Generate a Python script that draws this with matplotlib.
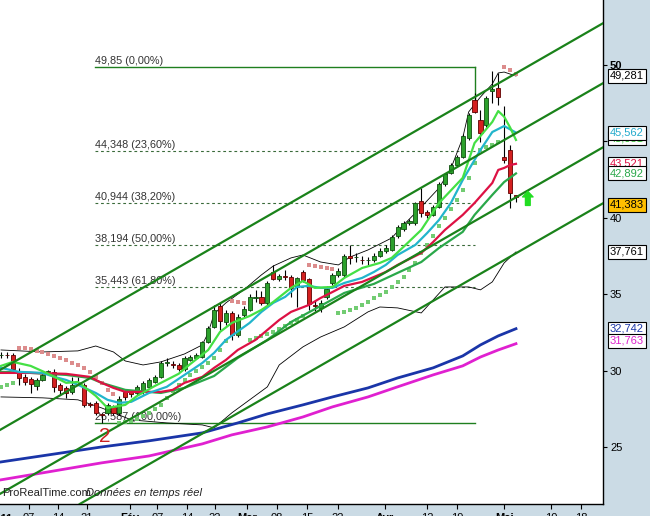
import numpy as np
import matplotlib.pyplot as plt
import matplotlib.transforms as mtransforms

plt.rcParams['font.family'] = ['Liberation Sans', 'DejaVu Sans']

# daily candles, Jan -> early May
opens = [31.00, 31.05, 31.03, 29.98, 29.59, 29.46, 29.00, 29.39, 29.90, 29.92,
         29.07, 28.87, 28.61, 29.25, 29.07, 27.80, 27.89, 27.15, 27.24, 27.63,
         27.24, 28.61, 28.60, 28.54, 28.60, 28.93, 29.26, 29.59, 30.50, 30.45,
         30.37, 30.11, 30.70, 30.83, 30.89, 31.88, 32.86, 34.23, 33.19, 33.77,
         32.33, 33.64, 33.97, 34.75, 34.79, 34.43, 36.45, 35.99, 36.20, 36.12,
         35.47, 36.45, 35.99, 34.30, 34.10, 34.79, 35.73, 36.26, 36.26, 37.50,
         37.40, 37.25, 37.20, 37.24, 37.50, 37.82, 37.89, 38.80, 39.26, 39.65,
         39.65, 41.09, 40.37, 40.18, 40.70, 42.20, 42.92, 43.44, 43.97, 45.21,
         47.69, 46.39, 46.06, 48.30, 48.48, 43.97, 44.42, 41.45]
highs = [31.20, 31.20, 31.16, 30.18, 29.78, 29.59, 29.52, 29.90, 30.05, 30.10,
         29.20, 29.00, 29.60, 29.60, 29.20, 27.95, 28.00, 27.25, 27.90, 27.75,
         28.35, 28.70, 28.75, 29.05, 29.30, 29.50, 29.70, 30.65, 30.80, 30.60,
         30.50, 30.95, 31.00, 31.15, 31.95, 32.90, 34.30, 34.43, 33.95, 33.90,
         33.70, 34.20, 35.00, 35.30, 35.20, 35.85, 36.90, 36.30, 36.60, 36.25,
         36.12, 36.60, 36.05, 34.60, 34.60, 35.50, 36.40, 36.70, 37.65, 38.22,
         37.70, 37.50, 37.40, 37.70, 38.00, 38.20, 38.85, 39.50, 39.80, 39.90,
         41.05, 41.94, 40.50, 40.85, 42.30, 42.95, 43.55, 44.10, 45.45, 46.85,
         48.15, 47.04, 47.95, 49.60, 49.46, 47.30, 44.75, 41.50]
lows = [30.85, 30.80, 29.85, 29.07, 29.07, 28.54, 28.74, 29.30, 29.80, 28.60,
        28.40, 28.20, 28.50, 29.10, 27.63, 27.60, 27.10, 26.59, 27.10, 27.10,
        27.10, 28.10, 28.30, 28.40, 28.50, 28.85, 29.20, 29.50, 30.30, 30.20,
        30.00, 30.00, 30.60, 30.75, 30.80, 31.80, 32.79, 32.66, 33.00, 32.00,
        32.20, 33.50, 33.90, 34.50, 34.30, 34.30, 35.90, 35.85, 35.90, 34.82,
        34.17, 35.80, 33.97, 33.90, 33.80, 34.70, 35.60, 36.10, 36.10, 37.00,
        37.10, 37.00, 36.90, 37.10, 37.40, 37.70, 37.80, 38.70, 39.10, 39.50,
        39.50, 40.05, 40.00, 40.10, 40.60, 42.10, 42.85, 43.35, 43.90, 45.10,
        46.85, 44.95, 45.95, 47.50, 47.37, 43.60, 40.63, 41.05]
closes = [31.05, 31.00, 30.11, 29.52, 29.26, 29.13, 29.39, 29.72, 29.95, 28.93,
          28.74, 28.54, 29.07, 29.28, 27.76, 27.75, 27.24, 27.10, 27.76, 27.24,
          28.15, 28.28, 28.45, 28.93, 29.20, 29.39, 29.59, 30.50, 30.55, 30.40,
          30.11, 30.83, 30.89, 31.03, 31.88, 32.79, 33.97, 33.25, 33.77, 32.33,
          33.52, 34.03, 34.82, 34.80, 34.43, 35.73, 35.99, 36.19, 36.15, 35.41,
          36.06, 35.93, 34.36, 34.25, 34.43, 35.35, 36.26, 36.51, 37.50, 37.37,
          37.45, 37.20, 37.25, 37.50, 37.82, 38.02, 38.74, 39.39, 39.65, 39.78,
          40.96, 40.31, 40.18, 40.70, 42.20, 42.86, 43.44, 43.97, 45.34, 46.71,
          46.91, 45.54, 47.82, 48.40, 47.89, 43.77, 41.61, 41.38]

# parabolic SAR
sar_vals = [28.94, 29.07, 29.20,
            31.48, 31.48, 31.42, 31.29, 31.22, 31.09, 30.96, 30.83, 30.70, 30.50,
            30.37, 30.18, 29.92, 29.59, 29.20, 28.74, 28.48,
            26.58, 26.65, 26.71, 26.84, 27.04, 27.24, 27.50, 27.76, 28.22, 28.67,
            29.07, 29.39, 29.72, 29.98, 30.24, 30.50, 30.83, 31.35, 31.94,
            34.56, 34.49, 34.42,
            32.01, 32.14, 32.27, 32.40, 32.53, 32.73, 32.92, 33.12, 33.31, 33.58,
            36.91, 36.84, 36.78, 36.71, 36.65,
            33.77, 33.84, 33.97, 34.10, 34.29, 34.49, 34.75, 34.95, 35.14, 35.47,
            35.80, 36.12, 36.58, 37.04, 37.69, 38.21, 38.80, 39.46, 39.98, 40.57,
            41.16, 41.81, 42.60, 43.58, 44.43, 44.62, 44.75, 44.95,
            49.85, 49.65, 49.39]
sar_runs = [('u', 3), ('d', 17), ('u', 19), ('d', 3), ('u', 10), ('d', 5), ('u', 28), ('d', 3)]

# moving averages
fast_idx = [0, 2, 5, 8, 11, 13, 16, 18, 21, 23, 26, 30, 32, 35, 37, 39, 42, 44, 46, 49,
            51, 53, 56, 58, 61, 64, 66, 68, 71, 74, 78, 80, 83, 84, 85, 86, 87]
fast_val = [30.31, 30.57, 30.31, 29.79, 29.20, 29.26, 28.35, 27.56, 27.76, 28.35,
            29.00, 29.79, 30.44, 31.35, 32.53, 33.12, 33.57, 33.97, 34.49, 35.41,
            35.86, 35.41, 35.47, 36.06, 36.71, 37.04, 37.37, 38.09, 39.20, 40.96,
            42.60, 44.88, 46.26, 46.97, 46.60, 45.90, 45.08]
cyan_idx = [0, 3, 7, 9, 11, 13, 16, 18, 20, 22, 25, 28, 31, 34, 36, 38, 42, 44, 46, 48,
            50, 52, 54, 56, 58, 61, 63, 65, 67, 70, 72, 74, 76, 78, 81, 83, 85, 87]
cyan_val = [30.18, 29.92, 29.85, 29.59, 29.39, 29.07, 28.54, 28.09, 27.89, 27.96,
            28.54, 28.94, 29.72, 30.50, 31.16, 32.01, 33.12, 33.84, 34.43, 34.82,
            35.47, 35.54, 35.41, 35.41, 35.73, 36.06, 36.45, 36.91, 37.56, 38.22,
            39.00, 39.85, 40.96, 42.46, 44.43, 45.60, 45.99, 45.56]
red_idx = [0, 5, 11, 15, 17, 19, 21, 23, 27, 29, 31, 34, 36, 38, 40, 43, 45, 47, 49, 52,
           54, 56, 58, 61, 63, 65, 67, 71, 73, 75, 78, 80, 83, 84, 85, 86, 87]
red_val = [29.85, 29.85, 29.79, 29.59, 29.20, 28.87, 28.61, 28.61, 28.61, 28.74,
           29.20, 29.59, 30.18, 30.70, 31.35, 32.01, 32.66, 33.31, 33.84, 34.29,
           34.75, 35.14, 35.54, 35.80, 36.12, 36.45, 36.91, 37.69, 38.41, 39.20,
           40.18, 40.96, 42.27, 43.12, 43.25, 43.44, 43.52]
mid_idx = [0, 5, 11, 15, 17, 21, 27, 31, 36, 40, 45, 49, 54, 58, 63, 67, 71, 74, 78, 80, 83, 85, 87]
mid_val = [29.92, 29.85, 29.72, 29.52, 29.20, 28.74, 28.54, 28.87, 29.65, 30.83,
           32.01, 33.18, 34.23, 35.08, 35.67, 36.39, 37.10, 38.02, 39.07, 40.18,
           41.49, 42.33, 42.89]
blue_idx = [0, 8, 17, 25, 34, 40, 45, 51, 56, 62, 67, 73, 78, 81, 84, 87]
blue_val = [24.03, 24.49, 25.01, 25.41, 25.93, 26.58, 27.17, 27.76, 28.28, 28.87,
            29.52, 30.18, 30.96, 31.68, 32.27, 32.74]
mag_idx = [0, 8, 17, 25, 34, 39, 45, 51, 56, 62, 67, 73, 78, 81, 84, 87]
mag_val = [22.86, 23.38, 23.97, 24.42, 25.21, 25.80, 26.32, 26.97, 27.63, 28.28,
           28.94, 29.72, 30.31, 30.89, 31.35, 31.76]

# bollinger bands
bb_up_idx = [0, 7, 13, 16, 19, 21, 24, 27, 31, 34, 35, 36, 38, 41, 44, 46, 49, 51, 54,
             57, 59, 62, 66, 68, 71, 74, 76, 78, 79, 81, 83, 84, 85, 87]
bb_up_val = [31.35, 31.22, 31.29, 31.61, 31.22, 30.63, 30.37, 30.57, 31.09, 31.68,
             32.47, 33.71, 34.43, 35.28, 36.26, 36.84, 37.37, 37.56, 37.10, 36.91,
             37.43, 37.89, 38.67, 39.52, 40.70, 41.94, 43.21, 45.21, 46.91, 47.89,
             48.74, 49.46, 49.52, 49.26]
bb_lo_idx = [0, 7, 13, 17, 22, 28, 34, 36, 39, 42, 45, 47, 51, 54, 58, 62, 64, 67, 71,
             73, 75, 79, 81, 83, 85, 87]
bb_lo_val = [28.28, 28.22, 28.09, 27.56, 26.78, 26.58, 26.45, 26.26, 27.24, 28.09,
             28.94, 30.37, 31.55, 32.20, 32.86, 33.84, 34.16, 34.10, 33.77, 34.62,
             35.47, 35.47, 35.28, 35.80, 37.04, 37.76]

# channel lines: price at first and last candle
chan_start = [30.08, 26.16, 21.98, 18.32]
chan_end = [49.44, 45.52, 41.33, 37.67]

# fibonacci retracement
fib_levels = [49.85, 44.348, 40.944, 38.194, 35.443, 26.587]
fib_labels = ['49,85 (0,00%)', '44,348 (23,60%)', '40,944 (38,20%)',
              '38,194 (50,00%)', '35,443 (61,80%)', '26,587 (100,00%)']

# price labels on the right
tag_text = ['45,081', '45,562', '49,281', '43,521', '42,892', '41,383', '37,761', '32,742', '31,763']
tag_pos = [45.2, 45.562, 49.281, 43.521, 42.892, 40.83, 37.761, 32.742, 31.95]
tag_color = ['#33cc33', '#22aacc', 'black', '#dd1144', '#2aa84a', 'black', 'black', '#1a35a8', '#dd22cc']
tag_face = ['white', 'white', 'white', 'white', 'white', '#ffbf00', 'white', 'white', 'white']

tick_idx = [4.7, 9.6, 14.5, 21.8, 26.4, 31.4, 36.1, 41.6, 46.6, 51.7, 56.9, 64.9, 72.0, 77.0, 85.0, 92.9, 98.0]
tick_lbl = ['07', '14', '21', 'Fév', '07', '14', '22', 'Mar', '08', '15', '22', 'Avr', '12', '19', 'Mai', '10', '18']

BG = '#cbdbe5'
fig = plt.figure(figsize=(6.5, 5.16), dpi=100)
fig.patch.set_facecolor(BG)
ax = fig.add_axes([0, 12 / 516, 603 / 650, 504 / 516])
ax.set_facecolor('white')
ax.set_xlim(-0.17, 101.7)
ax.set_ylim(21.28, 54.23)

# fib lines
for lev, lab in zip(fib_levels, fib_labels):
    solid = lev in (fib_levels[0], fib_levels[-1])
    ax.plot([15.9, 80.1], [lev, lev], color='#1f7f1f' if solid else '#3a6b3a',
            lw=1.0 if solid else 0.8, ls='-' if solid else (0, (2.5, 2.5)), zorder=1)
    ax.text(15.9, lev + 0.08, lab, fontsize=7.8, color='#333333', ha='left', va='bottom', zorder=1)
ax.plot([80.1, 80.1], [fib_levels[0], 47.69], color='#1f7f1f', lw=1.0, zorder=1)

# bollinger
ax.plot(bb_up_idx, bb_up_val, color='black', lw=0.6, zorder=2)
ax.plot(bb_lo_idx, bb_lo_val, color='black', lw=0.6, zorder=2)

# long averages
ax.plot(mag_idx, mag_val, color='#e020d0', lw=2.0, zorder=2)
ax.plot(blue_idx, blue_val, color='#1a35a8', lw=2.0, zorder=2)

# candles
x = np.arange(len(closes))
o = np.array(opens)
h = np.array(highs)
l = np.array(lows)
c = np.array(closes)
up = c >= o
ax.vlines(x, l, h, color='black', lw=0.8, zorder=3)
ax.bar(x[up], np.maximum(c - o, 0.02)[up], bottom=o[up], width=0.7, color='#2ca02c',
       edgecolor='#0f4f0f', lw=0.6, zorder=4)
ax.bar(x[~up], (o - c)[~up], bottom=c[~up], width=0.7, color='#d42020',
       edgecolor='#600000', lw=0.6, zorder=4)

# SAR
side = np.array([s for s, n in sar_runs for _ in range(n)])
sar = np.array(sar_vals)
ax.scatter(x[side == 'u'], sar[side == 'u'], marker='s', s=10, color='#72cc72', lw=0, zorder=5)
ax.scatter(x[side == 'd'], sar[side == 'd'], marker='s', s=10, color='#dc8c8c', lw=0, zorder=5)

# short averages
ax.plot(mid_idx, mid_val, color='#2aa84a', lw=1.6, zorder=6)
ax.plot(red_idx, red_val, color='#dd1144', lw=1.6, zorder=6)
ax.plot(cyan_idx, cyan_val, color='#22b5cc', lw=1.6, zorder=6)
ax.plot(fast_idx, fast_val, color='#44e044', lw=1.6, zorder=6)

# channel
for a, b in zip(chan_start, chan_end):
    ax.axline((0, a), (87, b), color='#1a821a', lw=1.6, zorder=7)

# annotations
ax.text(17.6, 25.67, '2', color='#cc2222', fontsize=15, ha='center', va='center', zorder=8)
ax.annotate('', xy=(89.0, 41.72), xytext=(89.0, 40.80),
            arrowprops=dict(arrowstyle='simple,head_length=0.4,head_width=0.75,tail_width=0.34',
                            color='#22dd22', shrinkA=0, shrinkB=0, mutation_scale=10), zorder=8)
ax.text(2 / 603, 6 / 504, 'ProRealTime.com', transform=ax.transAxes, fontsize=8,
        color='#222222', ha='left', va='bottom', zorder=9)
ax.text(86 / 603, 6 / 504, 'Données en temps réel', transform=ax.transAxes, fontsize=8,
        color='#222222', style='italic', ha='left', va='bottom', zorder=9)

# right axis
ax.yaxis.tick_right()
ax.set_yticks([25, 30, 35, 40, 45, 50])
ax.set_yticklabels(['25', '30', '35', '40', '', '50'])
ax.tick_params(axis='y', direction='out', length=3, width=0.8, pad=2, labelsize=8)
ax.get_yticklabels()[-1].set_fontweight('bold')

# bottom axis
ax.set_xticks(tick_idx)
ax.set_xticklabels(tick_lbl)
ax.tick_params(axis='x', direction='out', length=3.6, width=0.8, pad=3.2, labelsize=8)
for t in ax.get_xticklabels():
    if t.get_text() in ('Fév', 'Mar', 'Avr', 'Mai'):
        t.set_fontweight('bold')
blend = mtransforms.blended_transform_factory(ax.transData, ax.transAxes)
ax.text(-0.05, -9.5 / 504, '2011', transform=blend, fontsize=8, fontweight='bold',
        ha='center', va='top', clip_on=False)

for s in ('top', 'left'):
    ax.spines[s].set_visible(False)
ax.spines['right'].set_linewidth(1.0)
ax.spines['bottom'].set_linewidth(1.0)

ytr = mtransforms.blended_transform_factory(ax.transAxes, ax.transData)
for txt, pos, col, fc in zip(tag_text, tag_pos, tag_color, tag_face):
    ax.text(1 + 7 / 603, pos, txt, transform=ytr, fontsize=8, color=col, ha='left', va='center',
            bbox=dict(boxstyle='square,pad=0.18', fc=fc, ec='black', lw=0.8), clip_on=False)

fig.savefig('out.png', dpi=100, facecolor=BG)
